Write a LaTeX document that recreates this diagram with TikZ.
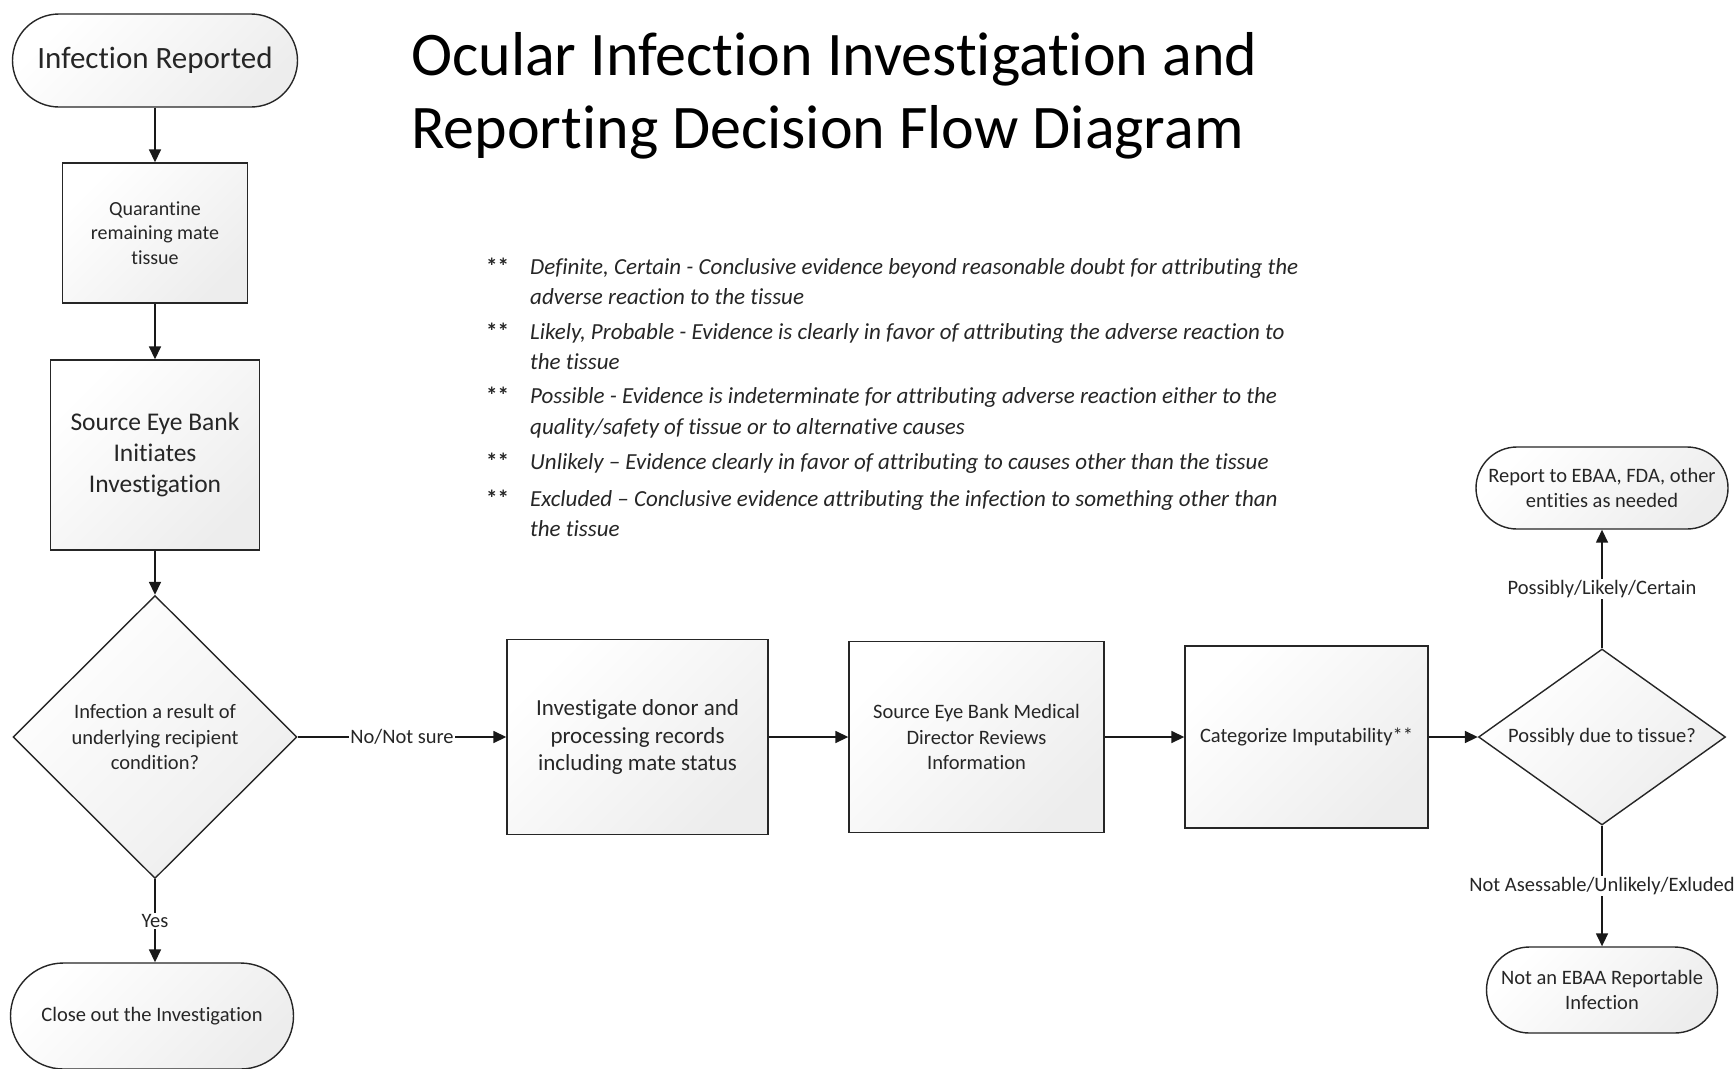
\documentclass[tikz,border=0pt]{standalone}
\usepackage{fontspec}
\setmainfont{Carlito}[Ligatures={TeX,NoCommon}]
\usetikzlibrary{arrows.meta,shapes.geometric,shapes.misc}
\begin{document}
\begin{tikzpicture}[x=1pt,y=-1pt,
  shp/.style={draw=black!85, line width=1.4pt, top color=white, bottom color=black!7, shading angle=45, text=black!85, align=center, inner sep=0pt},
  boxn/.style={shp, rectangle},
  term/.style={shp, rounded rectangle},
  dia/.style={shp, diamond},
  conn/.style={line width=1.6pt, draw=black!90, -{Triangle[length=13pt,width=12pt]}},
  lbl/.style={fill=white, text=black!85, inner sep=1.5pt, font=\fontsize{20.5}{25}\selectfont},
  fn/.style={anchor=base west, inner sep=0pt, text=black!85, font=\fontsize{23}{28}\selectfont\itshape},
  stars/.style={anchor=base west, inner sep=0pt, text=black!85, font=\fontsize{23}{28}\selectfont\bfseries},
  ttl/.style={anchor=base west, inner sep=0pt, text=black, font=\fontsize{62}{74}\selectfont},
]
\fill[white] (0,0) rectangle (1736,1068);
\useasboundingbox (0,0) rectangle (1736,1068);

% title
\node[ttl] (t1) at (411,75) {Ocular Infection Investigation and};
\node[ttl] (t2) at (411,148) {Reporting Decision Flow Diagram};

% footnotes
\node[stars] (s1) at (486,274) {**};
\node[fn] (n1a) at (530,274) {Definite, Certain - Conclusive evidence beyond reasonable doubt for attributing the};
\node[fn] (n1b) at (530,304) {adverse reaction to the tissue};
\node[stars] (s2) at (486,339) {**};
\node[fn] (n2a) at (530,339) {Likely, Probable - Evidence is clearly in favor of attributing the adverse reaction to};
\node[fn] (n2b) at (530,369) {the tissue};
\node[stars] (s3) at (486,403) {**};
\node[fn] (n3a) at (530,403) {Possible - Evidence is indeterminate for attributing adverse reaction either to the};
\node[fn] (n3b) at (530,434) {quality/safety of tissue or to alternative causes};
\node[stars] (s4) at (486,469) {**};
\node[fn] (n4a) at (530,469) {Unlikely – Evidence clearly in favor of attributing to causes other than the tissue};
\node[stars] (s5) at (486,506) {**};
\node[fn] (n5a) at (530,506) {Excluded – Conclusive evidence attributing the infection to something other than};
\node[fn] (n5b) at (530,536) {the tissue};

% left column
\node[term, minimum width=285pt, minimum height=93pt, font=\fontsize{31}{37}\selectfont] (rep) at (155,60.5) {Infection Reported};
\node[boxn, minimum width=185pt, minimum height=140pt, font=\fontsize{20}{24.4}\selectfont] (quar) at (155,233) {Quarantine\\remaining mate\\tissue};
\node[boxn, minimum width=209pt, minimum height=190pt, font=\fontsize{25.5}{31}\selectfont] (init) at (155,455) {Source Eye Bank\\Initiates\\Investigation};
\node[dia, minimum width=284pt, minimum height=283pt, font=\fontsize{20.5}{25.5}\selectfont] (dec1) at (155,737) {Infection a result of\\underlying recipient\\condition?};
\node[term, minimum width=283pt, minimum height=106pt, font=\fontsize{20.5}{25}\selectfont] (close) at (152,1016) {Close out the Investigation};

% middle row
\node[boxn, minimum width=261pt, minimum height=195pt, font=\fontsize{23}{27.7}\selectfont] (inv) at (637.5,737) {Investigate donor and\\processing records\\including mate status};
\node[boxn, minimum width=255pt, minimum height=191pt, font=\fontsize{20.5}{25.5}\selectfont] (med) at (976.5,737) {Source Eye Bank Medical\\Director Reviews\\Information};
\node[boxn, minimum width=243pt, minimum height=182pt, font=\fontsize{20.5}{25}\selectfont] (cat) at (1306.5,737) {Categorize Imputability**};

% right column
\node[dia, aspect=1.4, minimum width=247pt, minimum height=176pt, font=\fontsize{20.5}{25}\selectfont] (dec2) at (1602,737) {Possibly due to tissue?};
\node[term, minimum width=252pt, minimum height=82pt, font=\fontsize{20.5}{24.4}\selectfont] (report) at (1602,488) {Report to EBAA, FDA, other\\entities as needed};
\node[term, minimum width=231pt, minimum height=86pt, font=\fontsize{20.5}{24.4}\selectfont] (notrep) at (1602,990) {Not an EBAA Reportable\\Infection};

% connectors
\draw[conn] (rep.south) -- (quar.north);
\draw[conn] (quar.south) -- (init.north);
\draw[conn] (init.south) -- (dec1.north);
\draw[conn] (dec1.south) -- node[lbl] (yes) {Yes} (dec1.south |- close.north);
\draw[conn] (dec1.east) -- node[lbl] (no) {No/Not sure} (inv.west);
\draw[conn] (inv.east) -- (med.west);
\draw[conn] (med.east) -- (cat.west);
\draw[conn] (cat.east) -- (dec2.west);
\draw[conn] (dec2.north) -- node[lbl] (plc) {Possibly/Likely/Certain} (report.south);
\draw[conn] (dec2.south) -- node[lbl] (nue) {Not Asessable/Unlikely/Exluded} (notrep.north);
\end{tikzpicture}
\end{document}
